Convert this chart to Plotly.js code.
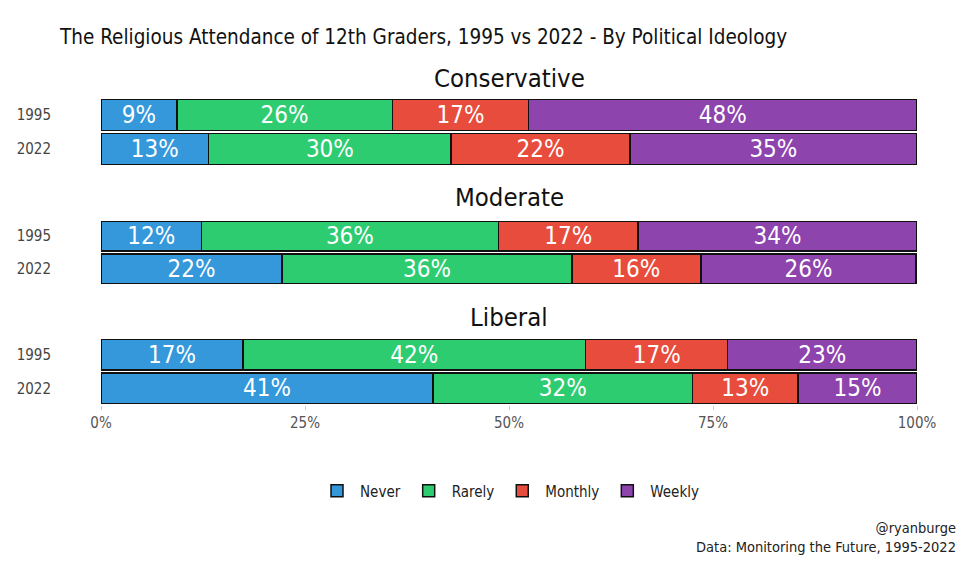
<!DOCTYPE html>
<html>
<head>
<meta charset="utf-8">
<script src="https://cdn.plot.ly/plotly-3.0.1.min.js"></script>
<style>html,body{margin:0;padding:0;background:#fff;}#chart{width:975px;height:571px;}</style>
</head>
<body>
<div id="chart"></div>
<script>
var years = ['1995', '2022'];
var ideologies = ['Conservative', 'Moderate', 'Liberal'];
var categories = ['Never', 'Rarely', 'Monthly', 'Weekly'];
var colors = ['#3498db', '#2ecc71', '#e74c3c', '#8e44ad'];

// values per ideology: [1995, 2022] for each category
var never   = { Conservative: [9.3, 13.2], Moderate: [12.3, 22.2], Liberal: [17.4, 40.7] };
var rarely  = { Conservative: [26.4, 29.7], Moderate: [36.4, 35.5], Liberal: [42.0, 31.8] };
var monthly = { Conservative: [16.7, 21.9], Moderate: [17.1, 15.8], Liberal: [17.4, 12.9] };
var weekly  = { Conservative: [47.6, 35.2], Moderate: [34.2, 26.4], Liberal: [23.2, 14.6] };
var seriesData = [never, rarely, monthly, weekly];

var FONT = '"Liberation Sans Narrow", "DejaVu Sans Condensed", "Roboto", sans-serif';
var yaxisNames = ['y', 'y2', 'y3'];
var traces = [];
ideologies.forEach(function (ideo, i) {
  categories.forEach(function (cat, c) {
    var vals = seriesData[c][ideo];
    traces.push({
      type: 'bar',
      orientation: 'h',
      name: cat,
      legendgroup: cat,
      showlegend: i === 0,
      x: vals,
      y: years,
      xaxis: 'x',
      yaxis: yaxisNames[i],
      marker: { color: colors[c], line: { color: '#111', width: 1.5 } },
      text: vals.map(function (v) { return Math.round(v) + '%'; }),
      textposition: 'inside',
      insidetextanchor: 'middle',
      constraintext: 'none',
      textfont: { family: FONT, size: 24, color: '#ffffff' },
      hoverinfo: 'none'
    });
  });
});

function ya(domain) {
  return {
    domain: domain,
    anchor: 'x',
    type: 'category',
    autorange: 'reversed',
    showgrid: false,
    zeroline: false,
    showline: false,
    ticks: 'outside',
    ticklen: 46,
    tickcolor: 'rgba(0,0,0,0)',
    tickfont: { family: FONT, size: 15, color: '#444' },
    automargin: false
  };
}

var layout = {
  width: 975,
  height: 571,
  paper_bgcolor: '#ffffff',
  plot_bgcolor: '#ffffff',
  margin: { l: 101, r: 58, t: 0, b: 0 },
  barmode: 'stack',
  bargap: 0.1,
  font: { family: FONT, color: '#222' },
  title: {
    text: 'The Religious Attendance of 12th Graders, 1995 vs 2022 - By Political Ideology',
    xref: 'container', yref: 'container',
    x: 60 / 975, xanchor: 'left',
    y: 1 - 37 / 571, yanchor: 'middle',
    font: { family: FONT, size: 20.5, color: '#111' }
  },
  xaxis: {
    anchor: 'y3',
    range: [0, 100],
    tickvals: [0, 25, 50, 75, 100],
    ticktext: ['0%', '25%', '50%', '75%', '100%'],
    showgrid: false,
    zeroline: false,
    showline: false,
    ticks: 'outside',
    ticklen: 4,
    tickcolor: '#cccccc',
    tickfont: { family: FONT, size: 15, color: '#555' },
    automargin: false
  },
  yaxis: ya([0.7093, 0.8284]),
  yaxis2: ya([0.5009, 0.6147]),
  yaxis3: ya([0.2907, 0.4081]),
  showlegend: true,
  legend: {
    orientation: 'h',
    x: 0.5, xanchor: 'center',
    y: 1 - 491 / 571, yanchor: 'middle',
    font: { family: FONT, size: 15, color: '#222' },
    traceorder: 'normal',
    itemwidth: 36
  },
  annotations: [
    { text: 'Conservative', xref: 'paper', yref: 'paper', x: 0.5, y: 1 - 78 / 571, xanchor: 'center', yanchor: 'middle', showarrow: false, font: { family: FONT, size: 25.5, color: '#111' } },
    { text: 'Moderate', xref: 'paper', yref: 'paper', x: 0.5, y: 1 - 197 / 571, xanchor: 'center', yanchor: 'middle', showarrow: false, font: { family: FONT, size: 25.5, color: '#111' } },
    { text: 'Liberal', xref: 'paper', yref: 'paper', x: 0.5, y: 1 - 317 / 571, xanchor: 'center', yanchor: 'middle', showarrow: false, font: { family: FONT, size: 25.5, color: '#111' } },
    { text: '@ryanburge<br>Data: Monitoring the Future, 1995-2022', xref: 'paper', yref: 'paper', x: (958 - 101) / 816, y: 1 - 537 / 571, xanchor: 'right', yanchor: 'middle', align: 'right', showarrow: false, font: { family: FONT, size: 14.5, color: '#222' } }
  ]
};

Plotly.newPlot('chart', traces, layout, { displayModeBar: false, staticPlot: true });
</script>
</body>
</html>
